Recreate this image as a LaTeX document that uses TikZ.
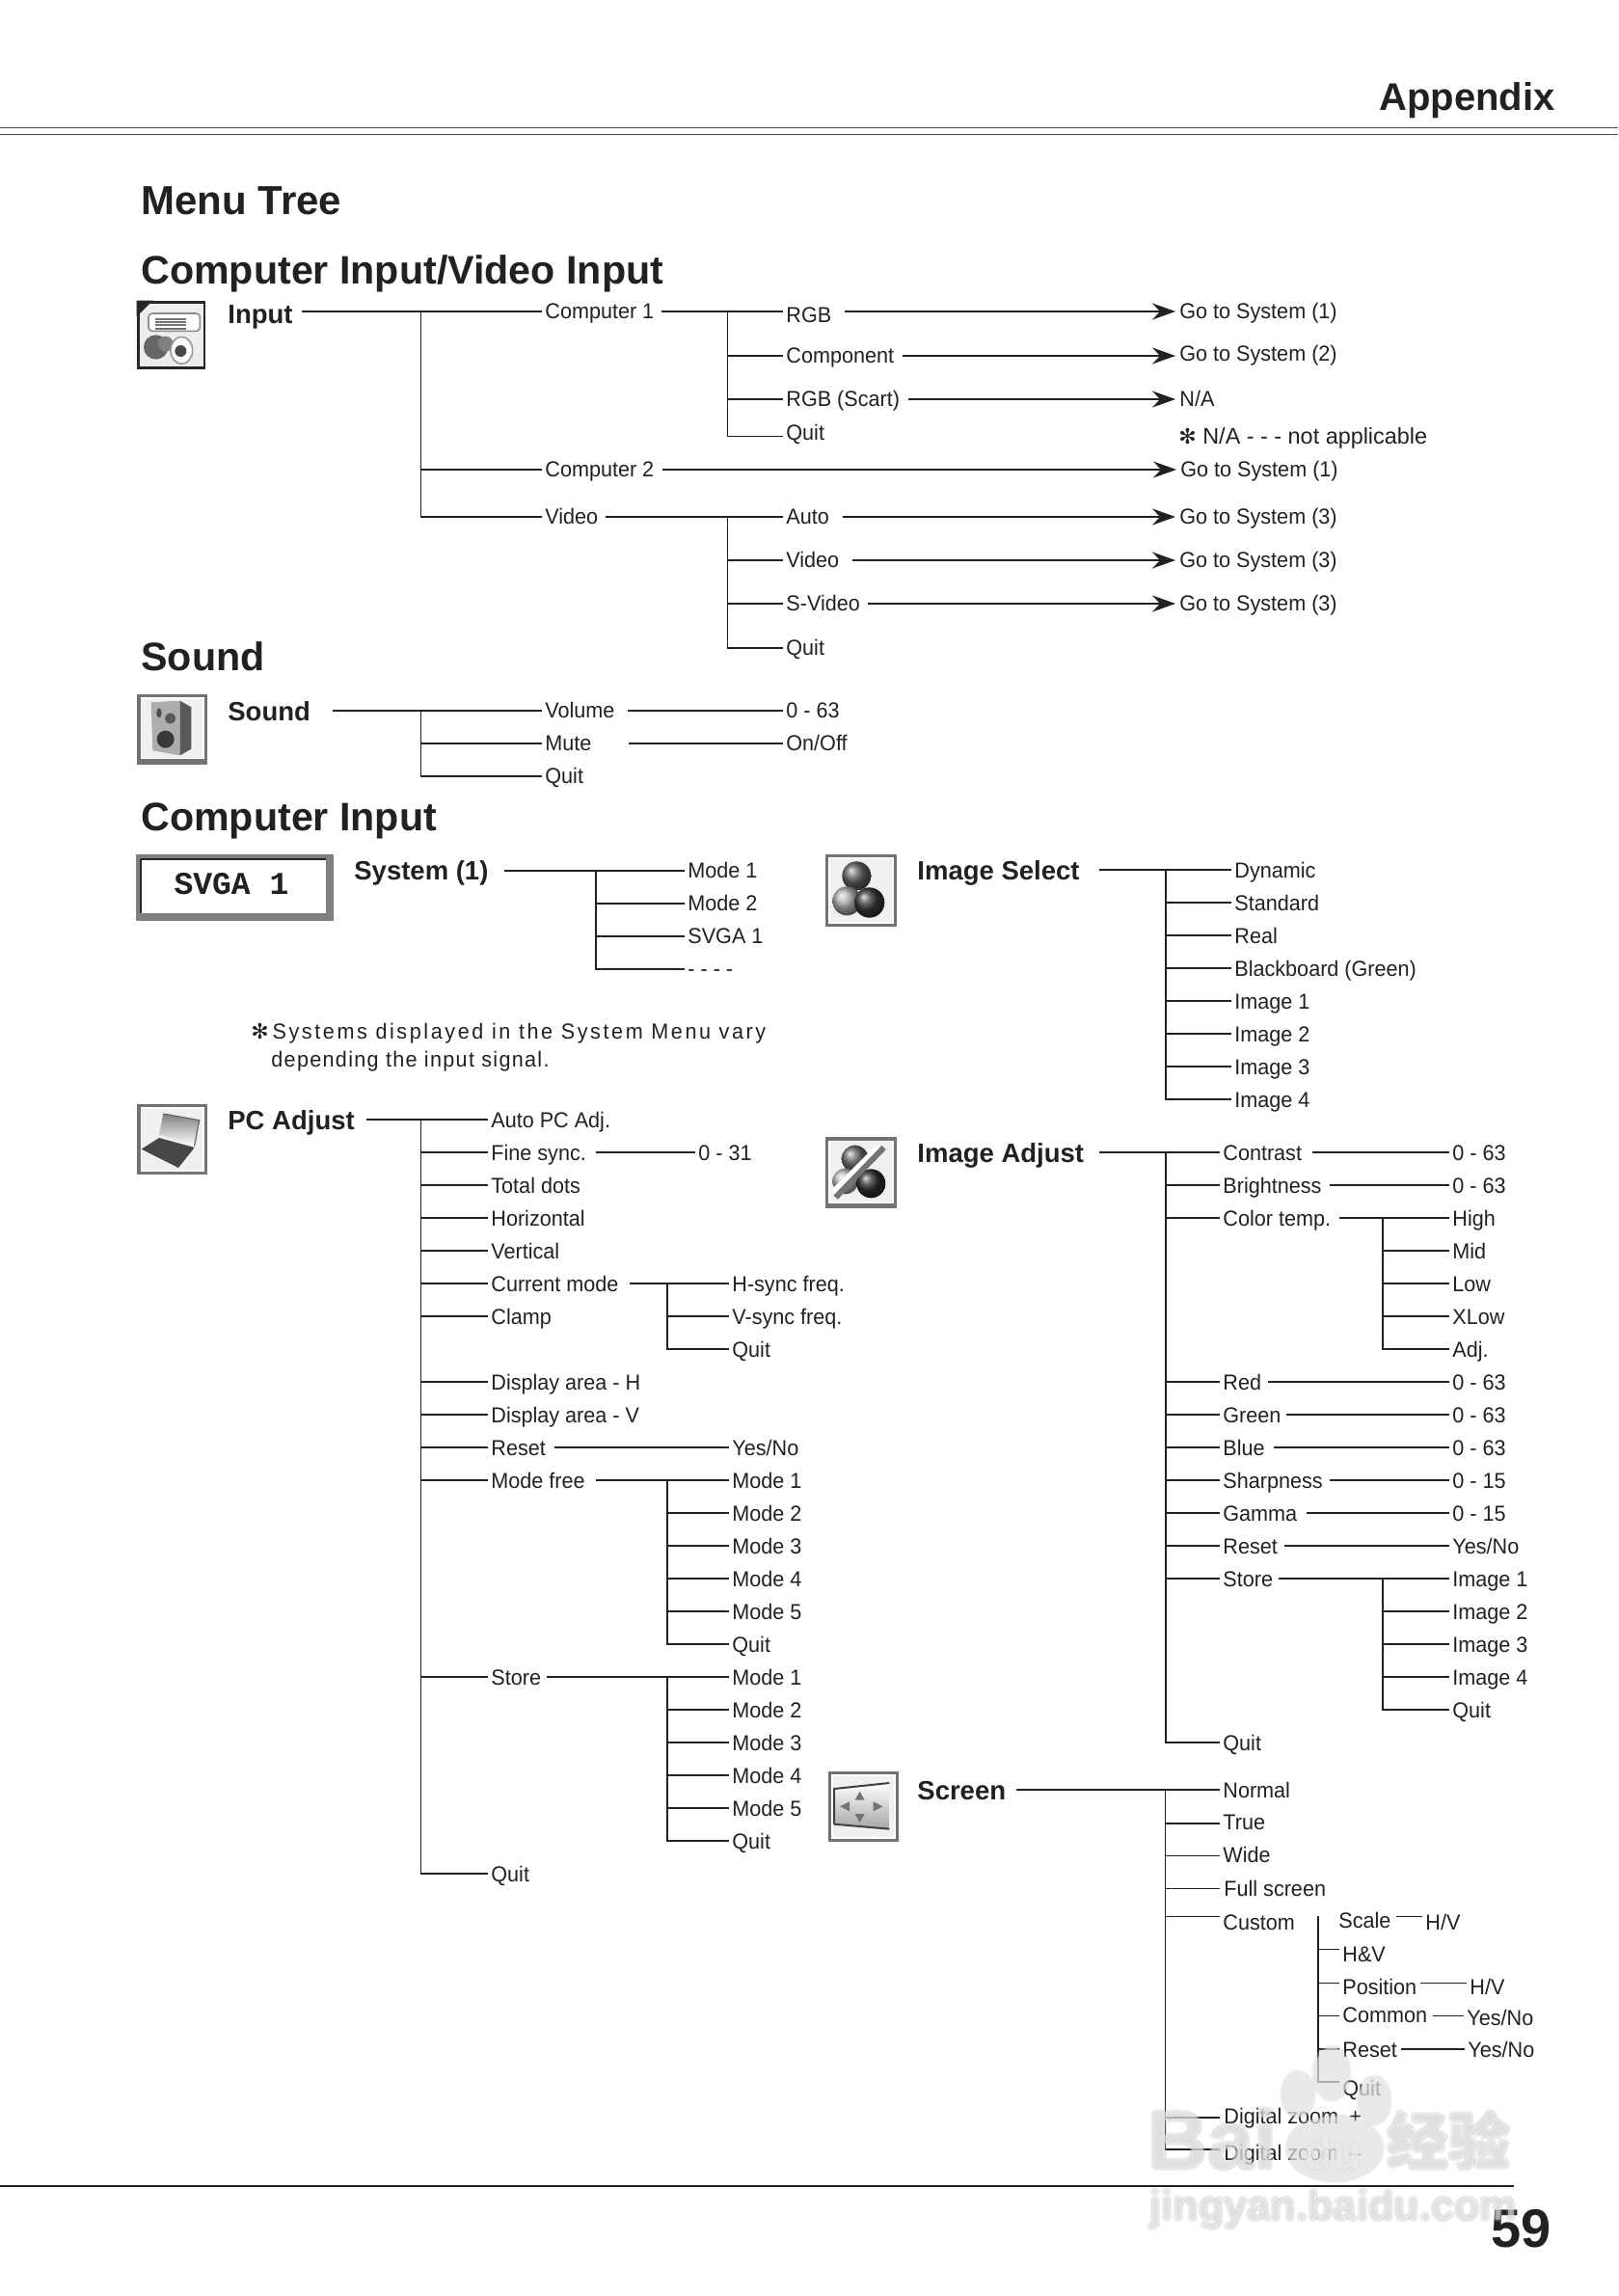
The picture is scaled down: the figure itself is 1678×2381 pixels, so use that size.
\documentclass[tikz,border=0pt]{standalone}
\usepackage{fontspec}
\setmainfont{Liberation Sans}
\newfontfamily\itemfont[FakeStretch=0.96]{Liberation Sans}
\newfontfamily\lcdfont{Liberation Mono}
\newfontfamily\starfont{DejaVu Sans}
\newfontfamily\cjkfont{Noto Sans CJK SC}
\usetikzlibrary{arrows.meta, calc, positioning}
\definecolor{ink}{gray}{0.13}
\tikzset{
  link/.style    = {draw=ink, line width=0.85pt, line cap=rect},
  golink/.style  = {draw=ink, line width=0.85pt, -{Stealth[length=12pt, width=8.5pt, inset=4pt]}},
  item/.style    = {anchor=west, inner xsep=2pt, inner ysep=0pt, text=ink, text height=10pt, text depth=2pt,
                    font=\itemfont\fontsize{11.25}{13}\selectfont},
  itemhi/.style  = {item, text depth=3pt},
  subhead/.style = {anchor=west, inner xsep=2pt, inner ysep=0pt, text=ink, text height=12pt, text depth=2pt,
                    font=\fontsize{13.75}{16}\selectfont\bfseries},
  head/.style    = {anchor=west, inner xsep=0pt, inner ysep=0pt, text=ink, text height=18pt, text depth=3pt,
                    font=\fontsize{20.6}{24}\selectfont\bfseries},
  iconunit/.style = {x=0.16667pt, y=-0.16667pt},
  wmedge/.style  = {text=black!32, text opacity=0.22},
  wmface/.style  = {text=white, text opacity=0.42},
}
\newcommand{\menutrunk}[4]{%
  \coordinate (tk) at (#1,0);
  \draw[link] (tk |- #2.west) -- (tk |- #3.west);
  \foreach \kid in {#4} {
    \draw[link] (tk |- \kid.west) -- (\kid.west);
  }
}
\newcommand{\iconframe}[6]{%
  \fill[black!#5] (#1,#2) rectangle (#3,#4);
  \fill[white] ($(#1,#2)+(10,10)$) rectangle ($(#3,#4)+(-10,-#6)$);
  \fill[black!6] ($(#1,#2)+(15,15)$) rectangle ($(#3,#4)+(-15,-#6-5)$);
}
\newcommand{\wmark}[1]{%
  \node[#1, anchor=west, inner sep=0pt, font=\fontsize{43}{46}\selectfont\bfseries] (wmbai) at (1190,2219) {Bai};
  \node[#1, anchor=center, inner sep=0pt, font=\fontsize{24}{26}\selectfont\bfseries] (wmdu) at (1382,2232) {du};
  \node[#1, anchor=west, inner sep=0pt, font=\fontsize{32}{34}\selectfont\cjkfont\bfseries] (wmcjk) at (1438,2219) {经验};
  \node[#1, anchor=west, inner sep=0pt, font=\fontsize{21.7}{24}\selectfont\bfseries] (wmurl) at (1192,2291) {jingyan.baidu.com};
}
\begin{document}
\begin{tikzpicture}[x=0.5pt, y=-0.5pt]
  \useasboundingbox (0,0) rectangle (1678,2381);
  \fill[white] (0,0) rectangle (1678,2381);
  % page furniture
  \draw[black!70, line width=0.5pt] (0,132.5) -- (1678,132.5);
  \draw[black!70, line width=0.5pt] (0,139.5) -- (1678,139.5);
  \draw[ink, line width=0.7pt] (0,2267) -- (1570,2267);
  \node[head, anchor=east, font=\fontsize{20}{24}\selectfont\bfseries] (appendix) at (1613,100) {Appendix};
  \node[head, anchor=east, font=\fontsize{28}{30}\selectfont\bfseries] (pageno) at (1609,2315) {59};
  \node[head, font=\fontsize{21}{24}\selectfont\bfseries] (menutree) at (146,208) {Menu Tree};
  \node[head] (secinput) at (146,279.5) {Computer Input/Video Input};
  \node[head] (secsound) at (146,680.5) {Sound};
  \node[head] (seccomputer) at (146,846) {Computer Input};

  % input icon
  \begin{scope}[shift={(130,300)}, iconunit]
    \fill[black!85] (35,35) rectangle (250,250);
    \fill[black!7] (45,45) rectangle (242,240);
    \fill[black!85] (35,35) -- (85,35) -- (35,85) -- cycle;
    \fill[white, draw=black!45, line width=0.8pt, rounded corners=2pt] (72,75) rectangle (232,130);
    \foreach \r in {92,102,112,122} {
      \draw[black!55, line width=0.9pt] (92,\r) -- (188,\r);
    }
    \fill[black!60] (95,180) circle [radius=38];
    \fill[black!50] (125,170) circle [radius=24];
    \fill[white, draw=black!40, line width=0.8pt] (175,190) ellipse [x radius=34, y radius=42];
    \fill[black!72] (172,192) circle [radius=18];
  \end{scope}
  % sound icon
  \begin{scope}[shift={(130,710)}, iconunit]
    \iconframe{37}{30}{255}{250}{55}{18}
    \fill[black!32] (80,55) -- (170,50) -- (170,220) -- (85,205) -- cycle;
    \fill[black!65] (170,50) -- (205,70) -- (205,200) -- (170,220) -- cycle;
    \fill[black!70] (105,88) ellipse [x radius=8, y radius=15];
    \fill[black!65] (140,105) circle [radius=17];
    \fill[black!78] (125,170) circle [radius=27];
  \end{scope}
  % pc adjust icon
  \begin{scope}[shift={(130,1135)}, iconunit]
    \iconframe{37}{30}{255}{250}{55}{10}
    \shade[top color=black!50, bottom color=white] (118,60) -- (230,80) -- (215,160) -- (105,125) -- cycle;
    \draw[black!60, line width=0.6pt] (118,60) -- (230,80) -- (215,160);
    \fill[black!72] (50,170) -- (105,135) -- (215,165) -- (165,228) -- cycle;
  \end{scope}
  % image select icon
  \begin{scope}[shift={(845,875)}, iconunit]
    \iconframe{33}{33}{255}{258}{55}{10}
    \shade[ball color=black!62] (130,100) circle [radius=45];
    \shade[ball color=black!32] (100,178) circle [radius=45];
    \shade[ball color=black!78] (170,183) circle [radius=47];
  \end{scope}
  % image adjust icon
  \begin{scope}[shift={(845,1170)}, iconunit]
    \iconframe{33}{28}{255}{248}{55}{14}
    \shade[ball color=black!58] (125,95) circle [radius=42];
    \shade[ball color=black!28] (95,165) circle [radius=40];
    \shade[ball color=black!82] (175,172) circle [radius=45];
    \draw[white, line width=4pt] (60,200) -- (200,60);
    \draw[black!55, line width=3pt] (65,215) -- (215,60);
  \end{scope}
  % screen icon
  \begin{scope}[shift={(845,1825)}, iconunit]
    \iconframe{42}{35}{262}{255}{55}{10}
    \shade[top color=white, bottom color=black!35] (60,90) -- (232,72) -- (232,215) -- (60,200) -- cycle;
    \draw[black!75, line width=1pt] (60,200) -- (60,90) -- (232,72);
    \draw[black!75, line width=1pt] (60,200) -- (232,215);
    \fill[black!55] (140,98) -- (155,125) -- (125,125) -- cycle;
    \fill[black!55] (78,145) -- (108,130) -- (108,160) -- cycle;
    \fill[black!55] (212,145) -- (182,130) -- (182,160) -- cycle;
    \fill[black!55] (140,195) -- (155,168) -- (125,168) -- cycle;
  \end{scope}
  % svga box
  \fill[black!50] (141,886) rectangle (345.5,955);
  \fill[white] (145.5,890) rectangle (338,947);
  \draw[black!85, line width=1pt] (146,890.5) -- (338,890.5);
  \draw[black!85, line width=1pt] (146,890.5) -- (146,947);
  \node[anchor=center, inner sep=0pt, text=ink, font=\fontsize{16.5}{18}\selectfont\lcdfont\bfseries] (svgalabel) at (240,917) {SVGA 1};

  % input tree
  \node[subhead] (input) at (232,323) {\raisebox{-1.5pt}{Input}};
  \node[itemhi] (compa) at (561,323) {Computer 1};
  \node[itemhi] (compb) at (561,487) {Computer 2};
  \node[itemhi] (video) at (561,536) {Video};
  \node[itemhi] (rgb) at (811,323) {\raisebox{-2pt}{RGB}};
  \node[itemhi] (component) at (811,369) {Component};
  \node[itemhi] (scart) at (811,414) {RGB (Scart)};
  \node[itemhi] (quita) at (811,452.5) {\raisebox{1.5pt}{Quit}};
  \node[itemhi] (auto) at (811,536) {Auto};
  \node[itemhi] (videob) at (811,581) {Video};
  \node[itemhi] (svideo) at (811,626) {S-Video};
  \node[itemhi] (quitb) at (811,672) {Quit};
  \node[itemhi] (gorgb) at (1219,323) {Go to System (1)};
  \node[itemhi] (gocomp) at (1219,369) {\raisebox{1pt}{Go to System (2)}};
  \node[itemhi] (goscart) at (1219,414) {N/A};
  \node[itemhi] (gocompb) at (1220,487) {Go to System (1)};
  \node[itemhi] (goauto) at (1219,536) {Go to System (3)};
  \node[itemhi] (govideo) at (1219,581) {Go to System (3)};
  \node[itemhi] (gosvideo) at (1219,626) {Go to System (3)};
  \node[itemhi, font=\fontsize{11.7}{13}\selectfont] (nastar) at (1218,453) {{\starfont\fontsize{11}{13}\selectfont ✻} N/A - - - not applicable};
  \draw[link] ([xshift=3pt]input.east) -- (compa.west);
  \menutrunk{436.5}{compa}{video}{compb,video}
  \draw[link] ([xshift=2.3pt]compa.east) -- (rgb.west);
  \menutrunk{754.5}{rgb}{quita}{component,scart,quita}
  \draw[link] ([xshift=2.1pt]video.east) -- (auto.west);
  \menutrunk{754.5}{auto}{quitb}{videob,svideo,quitb}
  \draw[golink] ([xshift=4.5pt]rgb.east) -- (gorgb.west);
  \draw[golink] ([xshift=2.3pt]component.east) -- (gocomp.west);
  \draw[golink] ([xshift=2.4pt]scart.east) -- (goscart.west);
  \draw[golink] ([xshift=2.3pt]compb.east) -- (gocompb.west);
  \draw[golink] ([xshift=4.9pt]auto.east) -- (goauto.west);
  \draw[golink] ([xshift=4.9pt]videob.east) -- (govideo.west);
  \draw[golink] ([xshift=2.1pt]svideo.east) -- (gosvideo.west);

  % sound tree
  \node[subhead] (sound) at (232,737) {Sound};
  \node[itemhi] (volume) at (561,737) {Volume};
  \node[itemhi] (mute) at (561,771) {Mute};
  \node[itemhi] (quitc) at (561,805) {Quit};
  \node[itemhi] (volrange) at (811,737) {0 - 63};
  \node[itemhi] (muteval) at (811,771) {On/Off};
  \draw[link] ([xshift=10pt]sound.east) -- (volume.west);
  \menutrunk{436.5}{volume}{quitc}{mute,quitc}
  \draw[link] ([xshift=5pt]volume.east) -- (volrange.west);
  \draw[link] ([xshift=17.5pt]mute.east) -- (muteval.west);

  % system tree
  \node[subhead] (system) at (363,903) {\raisebox{0.5pt}{System (1)}};
  \foreach \k/\t in {0/Mode 1,1/Mode 2,2/SVGA 1,3/- - - -} {
    \node[item, text depth=2.6pt] (sys\k) at (709,{903+34*\k}) {\t};
  }
  \draw[link] ([xshift=6.5pt]system.east) -- (sys0.west);
  \menutrunk{618}{sys0}{sys3}{sys1,sys2,sys3}
  \node[item, anchor=north west, text height=9pt, text depth=3pt] (sysnote) at (256,1059) {%
    {\starfont\fontsize{11}{13}\selectfont ✻}\,{\addfontfeature{LetterSpace=11.5}Systems displayed in the System Menu vary}};
  \node[item, anchor=north west, text height=9pt, text depth=3pt] (sysnoteb) at (277,1088) {{\addfontfeature{LetterSpace=5.8}depending the input signal.}};

  % image select tree
  \node[subhead] (imgselect) at (947,902) {Image Select};
  \foreach \k/\t in {0/Dynamic,1/Standard,2/Real,3/Blackboard (Green),4/Image 1,5/Image 2,6/Image 3,7/Image 4} {
    \node[item] (sel\k) at (1276,{902+34*\k}) {\t};
  }
  \draw[link] ([xshift=8.5pt]imgselect.east) -- (sel0.west);
  \menutrunk{1209}{sel0}{sel7}{sel1,sel2,sel3,sel4,sel5,sel6,sel7}

  % pc adjust tree
  \node[subhead] (pcadjust) at (232,1161) {PC Adjust};
  \foreach \n/\y/\t in {pcauto/1161/Auto PC Adj.,pcfine/1195/Fine sync.,pctotal/1229/Total dots,pchoriz/1263/Horizontal,pcvert/1297/Vertical,pccurrent/1331/Current mode,pcclamp/1365/Clamp,pcareah/1433/Display area - H,pcareav/1467/Display area - V,pcreset/1501/Reset,pcfree/1535/Mode free,pcstore/1739/Store,pcquit/1943/Quit} {
    \node[item] (\n) at (505,\y) {\t};
  }
  \node[item] (finerange) at (720,1195) {0 - 31};
  \draw[link] ([xshift=4.5pt]pcadjust.east) -- (pcauto.west);
  \menutrunk{436.5}{pcauto}{pcquit}{pcfine,pctotal,pchoriz,pcvert,pccurrent,pcclamp,pcareah,pcareav,pcreset,pcfree,pcstore,pcquit}
  \draw[link] ([xshift=3.3pt]pcfine.east) -- (finerange.west);
  \node[item] (curh) at (755,1331) {H-sync freq.};
  \node[item] (curv) at (755,1365) {V-sync freq.};
  \node[item] (curq) at (755,1399) {Quit};
  \draw[link] ([xshift=4pt]pccurrent.east) -- (curh.west);
  \menutrunk{692}{curh}{curq}{curv,curq}
  \node[item] (resetval) at (755,1501) {Yes/No};
  \draw[link] ([xshift=2.7pt]pcreset.east) -- (resetval.west);
  \foreach \k/\t in {0/Mode 1,1/Mode 2,2/Mode 3,3/Mode 4,4/Mode 5,5/Quit} {
    \node[item] (free\k) at (755,{1535+34*\k}) {\t};
    \node[item] (store\k) at (755,{1739+34*\k}) {\t};
  }
  \draw[link] ([xshift=4pt]pcfree.east) -- (free0.west);
  \menutrunk{692}{free0}{free5}{free1,free2,free3,free4,free5}
  \draw[link] ([xshift=1.1pt]pcstore.east) -- (store0.west);
  \menutrunk{692}{store0}{store5}{store1,store2,store3,store4,store5}

  % image adjust tree
  \node[subhead] (imgadjust) at (947,1195) {Image Adjust};
  \foreach \n/\y/\t in {adjcontrast/1195/Contrast,adjbright/1229/Brightness,adjcolor/1263/Color temp.,adjred/1433/Red,adjgreen/1467/Green,adjblue/1501/Blue,adjsharp/1535/Sharpness,adjgamma/1569/Gamma,adjreset/1603/Reset,adjstore/1637/Store,adjquit/1807/Quit} {
    \node[item] (\n) at (1264,\y) {\t};
  }
  \foreach \n/\y/\t in {valcontrast/1195/0 - 63,valbright/1229/0 - 63,colhigh/1263/High,colmid/1297/Mid,collow/1331/Low,colxlow/1365/XLow,coladj/1399/Adj.,valred/1433/0 - 63,valgreen/1467/0 - 63,valblue/1501/0 - 63,valsharp/1535/0 - 15,valgamma/1569/0 - 15,valreset/1603/{Yes/No},stoa/1637/Image 1,stob/1671/Image 2,stoc/1705/Image 3,stod/1739/Image 4,stoq/1773/Quit} {
    \node[item] (\n) at (1502,\y) {\t};
  }
  \draw[link] ([xshift=6pt]imgadjust.east) -- (adjcontrast.west);
  \menutrunk{1209}{adjcontrast}{adjquit}{adjbright,adjcolor,adjred,adjgreen,adjblue,adjsharp,adjgamma,adjreset,adjstore,adjquit}
  \foreach \a/\b/\g in {adjcontrast/valcontrast/3.7pt,adjbright/valbright/2.6pt,adjcolor/colhigh/2.8pt,adjred/valred/1.8pt,adjgreen/valgreen/1.2pt,adjblue/valblue/2.9pt,adjsharp/valsharp/2.1pt,adjgamma/valgamma/3.1pt,adjreset/valreset/1.7pt,adjstore/stoa/1.1pt} {
    \draw[link] ([xshift=\g]\a.east) -- (\b.west);
  }
  \menutrunk{1434}{colhigh}{coladj}{colmid,collow,colxlow,coladj}
  \menutrunk{1434}{stoa}{stoq}{stob,stoc,stod,stoq}

  % screen tree
  \node[subhead] (screen) at (947,1856) {Screen};
  \node[item] (normal) at (1264,1856) {Normal};
  \node[item] (true) at (1264,1891) {\raisebox{1pt}{True}};
  \node[item] (wide) at (1264,1924.5) {\raisebox{0.5pt}{Wide}};
  \node[item] (fullscr) at (1264,1958.5) {\hspace{0.5pt}Full screen};
  \node[item] (custom) at (1264,1987.5) {\raisebox{-3pt}{Custom}};
  \node[item] (zoomin) at (1264,2196) {\raisebox{1pt}{\hspace{0.5pt}Digital zoom\enspace +}};
  \node[item] (zoomout) at (1264,2229) {\raisebox{-1.5pt}{\hspace{0.5pt}Digital zoom\enspace –}};
  \draw[link] ([xshift=3.5pt]screen.east) -- (normal.west);
  \menutrunk{1208.5}{normal}{zoomout}{true,wide,fullscr,custom,zoomin,zoomout}
  \node[item] (scale) at (1384,1987.5) {\raisebox{-2pt}{Scale}};
  \node[item] (hv) at (1388,2021.5) {\raisebox{-2.5pt}{H\&V}};
  \node[item] (position) at (1388,2056.5) {\raisebox{-2pt}{Position}};
  \node[item] (common) at (1388,2090.5) {\raisebox{0.5pt}{Common}};
  \node[item] (resetb) at (1388,2125) {Reset};
  \node[item] (quitd) at (1388,2159) {\raisebox{-3pt}{Quit}};
  \menutrunk{1367}{scale}{quitd}{hv,position,common,resetb,quitd}
  \node[item] (scaleval) at (1474,1987.5) {\raisebox{-3pt}{H/V}};
  \node[item] (posval) at (1520,2056.5) {\raisebox{-2pt}{H/V}};
  \node[item] (comval) at (1517,2090.5) {\raisebox{-1pt}{Yes/No}};
  \node[item] (resval) at (1518,2125) {Yes/No};
  \draw[link] ([xshift=1.1pt]scale.east) -- (scaleval.west);
  \draw[link] ([xshift=0.1pt]position.east) -- (posval.west);
  \draw[link] ([xshift=1.3pt]common.east) -- (comval.west);
  \draw[link] ([xshift=0.2pt]resetb.east) -- (resval.west);

  % watermark over the lot
  \foreach \dx/\dy in {-2/0,2/0,0/-2,0/2} {
    \begin{scope}[shift={(\dx,\dy)}]
      \fill[black!25, opacity=0.18] (1381,2150) ellipse [x radius=19, y radius=28];
      \fill[black!25, opacity=0.18] (1346,2172) ellipse [x radius=17, y radius=24];
      \fill[black!25, opacity=0.18] (1425,2178) ellipse [x radius=17, y radius=25];
      \fill[black!25, opacity=0.18] (1384,2228) ellipse [x radius=50, y radius=34];
      \wmark{wmedge}
    \end{scope}
  }
  \fill[white, opacity=0.4] (1381,2150) ellipse [x radius=18, y radius=27];
  \fill[white, opacity=0.4] (1346,2172) ellipse [x radius=16, y radius=23];
  \fill[white, opacity=0.4] (1425,2178) ellipse [x radius=16, y radius=24];
  \fill[white, opacity=0.4] (1384,2228) ellipse [x radius=49, y radius=33];
  \wmark{wmface}
\end{tikzpicture}
\end{document}
